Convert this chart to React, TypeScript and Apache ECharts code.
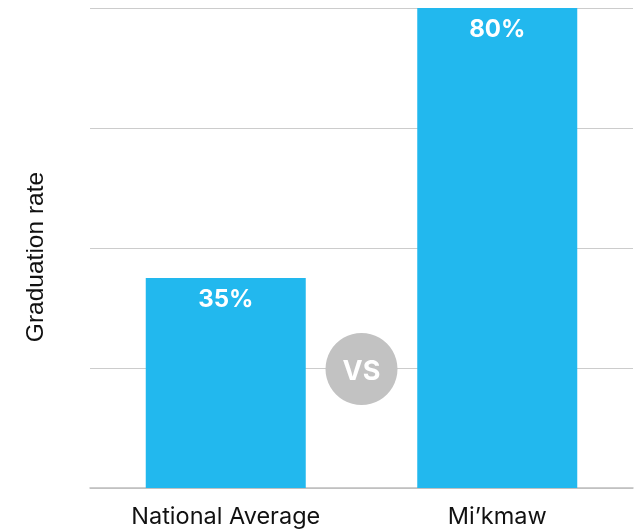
import React, { useEffect, useRef } from "react";
import * as echarts from "echarts";

const categories = ["National Average", "Mi\u2019kmaw"];
const values = [35, 80];
const yAxisTitle = "Graduation rate";
const vsLabel = "VS";
const vsValue = 20;

export default function App() {
  const ref = useRef<HTMLDivElement>(null);
  useEffect(() => {
    const chart = echarts.init(ref.current!, null, { renderer: "svg" });
    chart.setOption({
      animation: false,
      grid: { left: 90, right: 5, top: 8, bottom: 43 },
      xAxis: {
        type: "category",
        data: categories,
        axisLine: { lineStyle: { color: "#bdbdbd", width: 1.5 } },
        axisTick: { show: false },
        axisLabel: {
          color: "#111",
          fontSize: 23.5,
          fontFamily: "Inter",
          margin: 15,
        },
      },
      yAxis: {
        type: "value",
        min: 0,
        max: 80,
        interval: 20,
        name: yAxisTitle,
        nameLocation: "middle",
        nameGap: 43,
        nameTextStyle: {
          fontSize: 24.5,
          color: "#111",
          fontFamily: "Liberation Sans",
          padding: [0, 18, 0, 0],
        },
        axisLabel: { show: false },
        axisLine: { show: false },
        axisTick: { show: false },
        splitLine: { lineStyle: { color: "#cccccc", width: 1 } },
      },
      series: [
        {
          type: "bar",
          data: values,
          barWidth: 160,
          itemStyle: { color: "#22b8ee" },
          label: {
            show: true,
            position: "insideTop",
            distance: 8,
            formatter: (p: any) => p.value + "%",
            color: "#fff",
            fontSize: 24,
            fontWeight: "bold",
            fontFamily: "Inter",
          },
        },
      ],
    });
    const p0 = chart.convertToPixel({ gridIndex: 0 }, [0, vsValue]) as number[];
    const p1 = chart.convertToPixel({ gridIndex: 0 }, [1, vsValue]) as number[];
    const cx = (p0[0] + p1[0]) / 2;
    const cy = p0[1] + 1;
    chart.setOption({
      graphic: [
        {
          type: "circle",
          shape: { cx, cy, r: 36 },
          style: { fill: "#c2c2c2" },
          z: 100,
        },
        {
          type: "text",
          x: cx,
          y: cy + 1,
          style: {
            text: vsLabel,
            fill: "#fff",
            fontSize: 27,
            fontWeight: "bold",
            fontFamily: "Inter",
            align: "center",
            verticalAlign: "middle",
          },
          z: 101,
        },
      ],
    });
    return () => chart.dispose();
  }, []);
  return (
    <div
      ref={ref}
      style={{ position: "fixed", left: 0, top: 0, width: 638, height: 531 }}
    />
  );
}
